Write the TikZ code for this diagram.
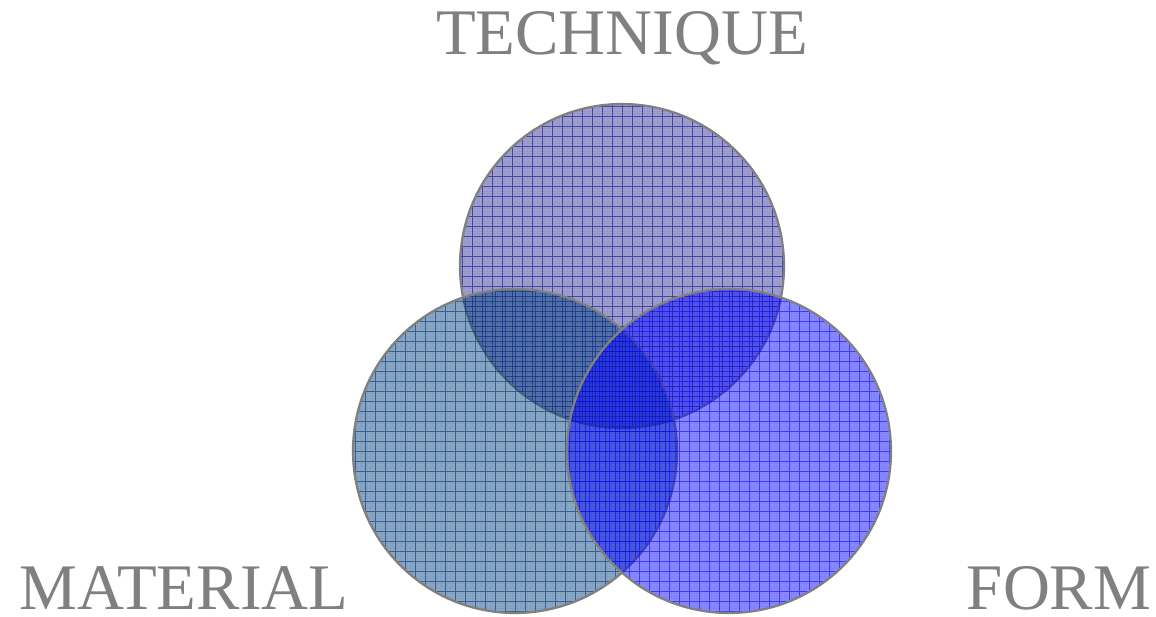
\documentclass[tikz,border=0pt]{standalone}
\usepackage{fontspec}
\setmainfont{Liberation Serif}
\usepackage{tikz}
\definecolor{bleuTech}{RGB}{0,0,128}
\definecolor{bleuMat}{RGB}{0,64,128}
\definecolor{traitMat}{RGB}{0,40,110}
\definecolor{bleuForme}{RGB}{0,0,255}
\tikzset{
    cercle/.style 2 args={
        circle,
        draw=gray,
        line width=1.3pt,
        minimum size=6.48cm,
        inner sep=0pt,
        fill=#1,
        fill opacity=0.45,
        path picture={
            \draw[#2, line width=0.15pt, draw opacity=0.08, step=0.05cm]
                (path picture bounding box.south west) grid (path picture bounding box.north east);
            \draw[#2, line width=0.5pt, draw opacity=0.55, step=0.2cm]
                (path picture bounding box.south west) grid (path picture bounding box.north east);
        }
    },
    titre/.style={
        anchor=base,
        inner sep=0pt,
        text=gray,
        font=\fontsize{37}{40}\selectfont
    }
}

\begin{document}
\begin{tikzpicture}[x=0.02cm, y=-0.02cm]
    \useasboundingbox (0,0) rectangle (1156,617);

    % les trois cercles
    \node[cercle={bleuTech}{bleuTech}, fill opacity=0.36] (technique) at (622,266) {};
    \node[cercle={bleuMat}{traitMat}] (materiel) at (515,451) {};
    \node[cercle={bleuForme}{bleuForme}] (forme) at (729,451) {};

    % titres
    \node[titre] (tTechnique) at (622,55) {TECHNIQUE};
    \node[titre] (tMateriel) at (184,610) {MATERIAL};
    \node[titre] (tForme) at (1059,610) {FORM};
\end{tikzpicture}
\end{document}
